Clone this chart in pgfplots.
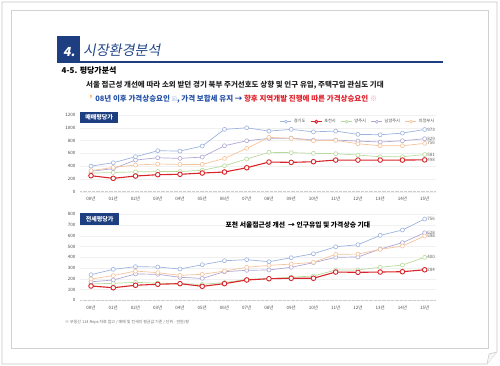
\documentclass[border=0pt]{standalone}
\usepackage{fontspec}
\setmainfont{Noto Sans CJK KR}
\newfontfamily\dejavu{DejaVu Sans}
\newfontfamily\slantfont[FakeSlant=0.18]{Noto Sans CJK KR}
\usepackage{pgfplots}
\usepackage{pgfplotstable}
\pgfplotsset{compat=1.18}

\definecolor{navy}{HTML}{1D3F82}
\definecolor{titleblue}{HTML}{22468A}
\definecolor{cGG}{HTML}{9DB3DE}
\definecolor{cPC}{HTML}{D7252B}
\definecolor{cYJ}{HTML}{B9DA9E}
\definecolor{cNYJ}{HTML}{AEA8D4}
\definecolor{cUJB}{HTML}{F5C39B}
\definecolor{txtblue}{HTML}{2450A8}
\definecolor{txtred}{HTML}{E0202A}

\pgfplotstableread{
x gg pc yj nyj ujb
0 400 250 290 320 330
1 453 209 300 360 380
2 547 245 310 495 417
3 641 266 315 531 433
4 636 272 315 521 427
5 714 292 335 542 427
6 975 308 406 719 521
7 1000 375 511 797 678
8 948 464 616 834 850
9 975 459 611 839 834
10 937 469 600 808 797
11 948 495 595 808 803
12 897 495 573 792 750
13 891 495 547 777 719
14 917 495 547 797 719
15 973 498 581 829 756
}\topdata

\pgfplotstableread{
x gg pc yj nyj ujb
0 238 133 152 172 198
1 288 117 158 189 230
2 313 140 167 245 272
3 310 149 160 242 257
4 291 155 155 214 232
5 331 130 148 204 242
6 368 155 165 266 272
7 378 189 195 279 307
8 359 201 200 282 325
9 396 205 215 307 337
10 433 205 226 350 353
11 498 263 282 400 428
12 517 260 282 403 430
13 604 263 307 477 474
14 654 266 328 536 505
15 756 284 400 628 598
}\botdata

\tikzset{vlab/.style={font=\fontsize{4.5}{5}\selectfont, text=black!60, anchor=west, xshift=2.5pt, inner sep=0pt}}

\pgfplotsset{
  base/.style={
    scale only axis, width=355.9pt, xmin=-0.5, xmax=15.5, ymin=0,
    xtick={0,...,15},
    xticklabels={00년,01년,02년,03년,04년,05년,06년,07년,08년,09년,10년,11년,12년,13년,14년,15년},
    axis line style={draw=none}, major tick length=0pt,
    ymajorgrids, grid style={gray!12, line width=0.3pt},
    tick label style={font=\fontsize{4.5}{5}\selectfont, text=black!70},
    xticklabel style={yshift=-1.5pt},
    yticklabel style={xshift=-1pt},
    /pgf/number format/assume math mode=true,
    /pgf/number format/1000 sep={},
    extra y ticks={0}, extra y tick labels={},
    extra y tick style={grid style={gray!40, densely dotted, line width=0.4pt}},
    clip=false,
  },
  sGG/.style={color=cGG, line width=0.7pt, mark=*, mark size=2pt, mark options={fill=white, line width=0.6pt}},
  sPC/.style={color=cPC, line width=1.1pt, mark=*, mark size=2.3pt, mark options={fill=white, line width=0.9pt}},
  sYJ/.style={color=cYJ, line width=0.7pt, mark=*, mark size=2pt, mark options={fill=white, line width=0.6pt}},
  sNYJ/.style={color=cNYJ, line width=0.7pt, mark=*, mark size=2pt, mark options={fill=white, line width=0.6pt}},
  sUJB/.style={color=cUJB, line width=0.7pt, mark=*, mark size=2pt, mark options={fill=white, line width=0.6pt}},
}

\begin{document}
\begin{tikzpicture}[x=1pt,y=1pt]
\useasboundingbox (0,0) rectangle (500,-366);
% slide frame
\draw[gray!45, line width=0.6pt] (2,-2) -- (497,-2) -- (497,-352) -- (487,-364) -- (2,-364) -- cycle;
\filldraw[gray!45, fill=gray!8, line width=0.5pt] (487,-364) -- (489,-354) -- (497,-352);
\draw[gray!35, line width=0.5pt] (11.5,-10) rectangle (488.5,-348);
% title
\fill[navy] (57,-36) rectangle (80,-62.7);
\node[text=white, inner sep=0pt] at (69,-52) {\slantfont\bfseries\fontsize{12.5}{13}\selectfont 4.};
\node[anchor=west, text=titleblue, inner sep=0pt] at (83,-50) {\slantfont\fontsize{14}{15}\selectfont 시장환경분석};
\draw[navy, line width=1.6pt] (80,-61.8) -- (443,-61.8);
% subtitle and comments
\node[anchor=west, inner sep=0pt] at (61.5,-71) {\bfseries\fontsize{8}{9}\selectfont 4-5. 평당가분석};
\node[anchor=west, inner sep=0pt, text=black!85] at (86,-85.5) {\bfseries\fontsize{7.5}{8}\selectfont 서울 접근성 개선에 따라 소외 받던 경기 북부 주거선호도 상향 및 인구 유입, 주택구입 관심도 기대};
\node[anchor=west, inner sep=0pt] at (89.5,-99.5) {\bfseries\fontsize{7.5}{8}\selectfont {\color{orange}'}\, {\color{txtblue}08년 이후 가격상승요인 {\dejavu\fontsize{6}{7}\selectfont\color{cGG}☒}, 가격 보합세 유지 → }{\color{txtred}향후 지역개발 진행에 따른 가격상승요인} {\color{txtred!45}※}};

% ---------- top chart ----------
\begin{axis}[base, at={(79.9pt,-191.7pt)}, anchor=south west, height=76.7pt,
  ymax=1200, ytick={0,200,...,1200},
  legend columns=5,
  legend style={at={(1.01,1.0)}, anchor=north east, draw=none, fill=none,
    font=\fontsize{4.2}{5}\selectfont, text=black!70,
    /tikz/every even column/.append style={column sep=3pt}},
  legend image code/.code={\draw[mark repeat=2, mark phase=2, mark size=1.5pt] plot coordinates {(0pt,0pt) (5.5pt,0pt) (11pt,0pt)};},
]
\addlegendimage{sGG, line width=0.6pt}
\addlegendentry{경기도}
\addlegendimage{sPC, line width=0.9pt}
\addlegendentry{포천시}
\addlegendimage{sYJ, line width=0.6pt}
\addlegendentry{양주시}
\addlegendimage{sNYJ, line width=0.6pt}
\addlegendentry{남양주시}
\addlegendimage{sUJB, line width=0.6pt}
\addlegendentry{의정부시}
\addplot[sYJ, forget plot] table[x=x, y=yj] {\topdata};
\addplot[sNYJ, forget plot] table[x=x, y=nyj] {\topdata};
\addplot[sUJB, forget plot] table[x=x, y=ujb] {\topdata};
\addplot[sGG, forget plot] table[x=x, y=gg] {\topdata};
\addplot[sPC, forget plot] table[x=x, y=pc] {\topdata};
\node[vlab] at (axis cs:15,973) {973};
\node[vlab] at (axis cs:15,829) {829};
\node[vlab] at (axis cs:15,756) {756};
\node[vlab] at (axis cs:15,581) {581};
\node[vlab] at (axis cs:15,498) {498};
\end{axis}
\fill[navy] (80,-112.3) rectangle (118.3,-123);
\node[text=white, inner sep=0pt] at (99.2,-117.7) {\bfseries\fontsize{6}{7}\selectfont 매매평당가};

% ---------- bottom chart ----------
\begin{axis}[base, at={(79.9pt,-300.3pt)}, anchor=south west, height=86pt,
  ymax=800, ytick={0,100,...,800},
]
\addplot[sYJ] table[x=x, y=yj] {\botdata};
\addplot[sNYJ] table[x=x, y=nyj] {\botdata};
\addplot[sUJB] table[x=x, y=ujb] {\botdata};
\addplot[sGG] table[x=x, y=gg] {\botdata};
\addplot[sPC] table[x=x, y=pc] {\botdata};
\node[vlab] at (axis cs:15,756) {756};
\node[vlab] at (axis cs:15,628) {628};
\node[vlab] at (axis cs:15,598) {598};
\node[vlab] at (axis cs:15,400) {400};
\node[vlab] at (axis cs:15,284) {284};
\end{axis}
\fill[navy] (80,-213.3) rectangle (119.3,-225);
\node[text=white, inner sep=0pt] at (99.6,-219.2) {\bfseries\fontsize{6}{7}\selectfont 전세평당가};
\node[anchor=west, inner sep=0pt] at (225.5,-225.3) {\bfseries\fontsize{6.8}{7}\selectfont 포천 서울접근성 개선~ → 인구유입 및 가격상승 기대};

% footnote
\node[anchor=west, inner sep=0pt, text=black!55] at (65,-322) {\fontsize{4}{5}\selectfont ※ 부동산 114 Reps 자료 참고 / 매매 및 전세의 평균값 기준 / 단위 : 만원/평};
\end{tikzpicture}
\end{document}
